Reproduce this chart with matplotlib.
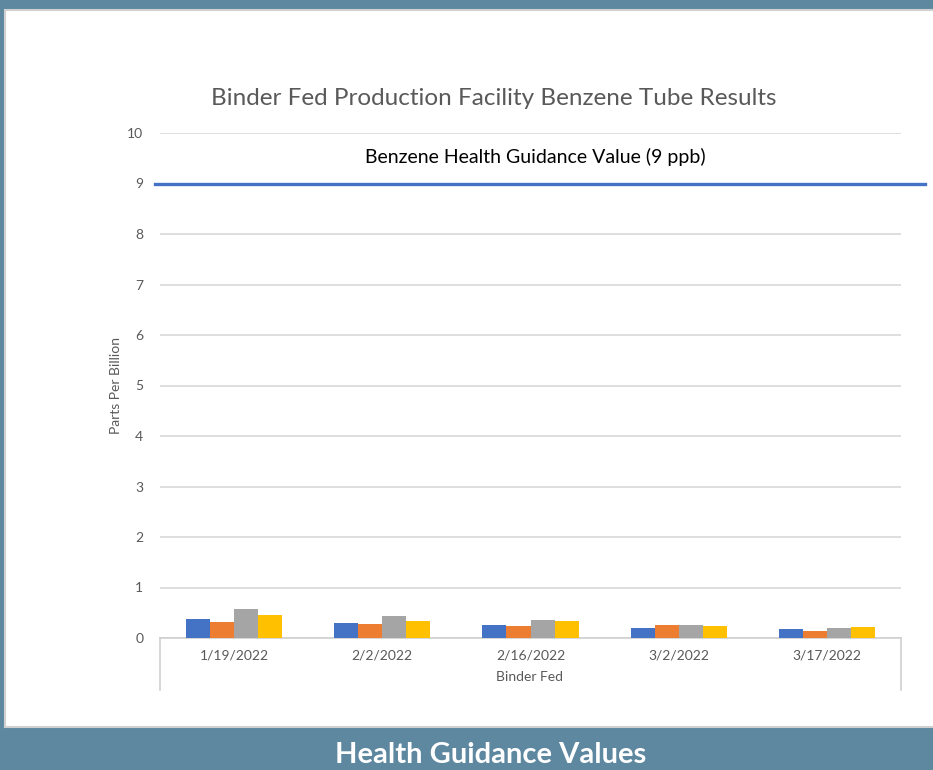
import numpy as np
import matplotlib.pyplot as plt
from matplotlib.patches import Rectangle
from matplotlib.lines import Line2D

plt.rcParams['font.family'] = ['Lato', 'DejaVu Sans']

# datos
fechas = ['1/19/2022', '2/2/2022', '2/16/2022', '3/2/2022', '3/17/2022']
serie_1 = [0.38, 0.29, 0.25, 0.19, 0.17]
serie_2 = [0.31, 0.28, 0.24, 0.25, 0.14]
serie_3 = [0.58, 0.44, 0.35, 0.25, 0.19]
serie_4 = [0.45, 0.33, 0.34, 0.23, 0.21]
guia_benceno = 9

colores = ['#4472C4', '#ED7D31', '#A5A5A5', '#FFC000']
gris_texto = '#595959'

fig = plt.figure(figsize=(9.33, 7.7), dpi=100)
fig.patch.set_facecolor('#5E87A0')

# panel blanco
fig.add_artist(Rectangle((5 / 933, 1 - 727 / 770), 940 / 933, 717 / 770,
                         transform=fig.transFigure, facecolor='white',
                         edgecolor='#D0D0D0', linewidth=1.5, zorder=0))

ax = fig.add_axes([160 / 933, 1 - 638 / 770, 741 / 933, 505 / 770])
ax.set_facecolor('none')

x = np.arange(len(fechas))
ancho = 0.162
for i, (serie, c) in enumerate(zip([serie_1, serie_2, serie_3, serie_4], colores)):
    ax.bar(x + (i - 1.5) * ancho, serie, width=ancho, color=c, zorder=3)

ax.set_xlim(-0.5, len(fechas) - 0.5)
ax.set_ylim(0, 10)
ax.set_yticks(range(0, 11))
ax.grid(axis='y', color='#D9D9D9', linewidth=1.2, zorder=0)
ax.set_xticks(x)
ax.set_xticklabels(fechas)
ax.tick_params(axis='both', length=0, labelsize=10, colors=gris_texto, pad=8)
ax.tick_params(axis='y', pad=12)

for s in ['top', 'right', 'left']:
    ax.spines[s].set_visible(False)
ax.spines['bottom'].set_color('#D0D0D0')
ax.spines['bottom'].set_linewidth(1.2)

# caja de la categoria
for xf in [160 / 933, 901 / 933]:
    fig.add_artist(Line2D([xf, xf], [1 - 638 / 770, 1 - 690 / 770],
                          transform=fig.transFigure, color='#D0D0D0', linewidth=1.2))

# linea de valor guia
ax.axhline(guia_benceno, xmin=-5 / 741, xmax=765 / 741, color='#4472C4',
           linewidth=2.4, clip_on=False, zorder=4)
ax.text(0.506, 9.52, 'Benzene Health Guidance Value (9 ppb)', ha='center', va='center',
        fontsize=14, color='black', transform=ax.get_yaxis_transform())

ax.set_title('Binder Fed Production Facility Benzene Tube Results', fontsize=17.5,
             color=gris_texto, pad=20, x=0.451)
ax.set_ylabel('Parts Per Billion', fontsize=10, color=gris_texto, labelpad=4)
fig.text(530 / 933, 1 - 677 / 770, 'Binder Fed', ha='center', va='center',
         fontsize=10, color=gris_texto)

# texto de abajo, un poco mas arriba para que no se corte
fig.text(491 / 933, 1 - 763 / 770, 'Health Guidance Values', ha='center', va='baseline',
         fontsize=21, fontweight='bold', color='white')

fig.savefig('out.png', dpi=100, facecolor=fig.get_facecolor())
